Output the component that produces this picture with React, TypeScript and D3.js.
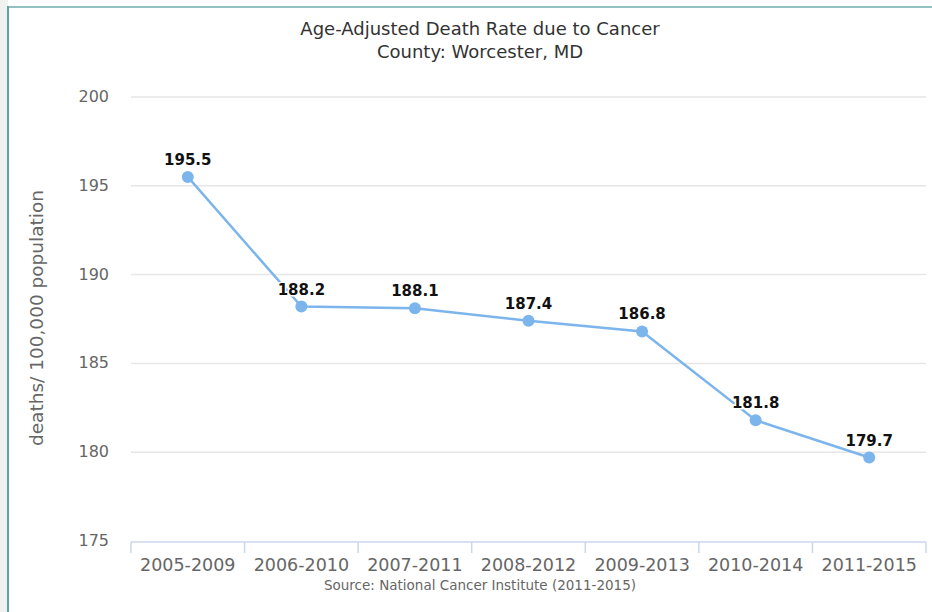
import React from "react";
import * as d3 from "d3";

const categories = ["2005-2009", "2006-2010", "2007-2011", "2008-2012", "2009-2013", "2010-2014", "2011-2015"];
const values = [195.5, 188.2, 188.1, 187.4, 186.8, 181.8, 179.7];
const yTicks = [175, 180, 185, 190, 195, 200];
const titleLines = ["Age-Adjusted Death Rate due to Cancer", "County: Worcester, MD"];
const yAxisTitle = "deaths/ 100,000 population";
const sourceText = "Source: National Cancer Institute (2011-2015)";

export default function App() {
  const W = 932, H = 612;
  const left = 131, right = 926, top = 97, bottom = 541;
  const x = d3.scaleBand<string>().domain(categories).range([left, right]);
  const y = d3.scaleLinear().domain([175, 200]).range([bottom, top]);
  const line = d3.line<number>()
    .x((_, i) => (x(categories[i]) as number) + x.bandwidth() / 2)
    .y((d) => y(d));
  const font = "'DejaVu Sans', sans-serif";
  const tickEdges = [...categories.map((c) => x(c) as number), right];
  return (
    <svg width={W} height={H} style={{ position: "absolute", left: 0, top: 0, background: "#fff" }} fontFamily={font}>
      <rect x={0} y={0} width={8} height={H} fill="#f1f1ef" />
      <rect x={7} y={6} width={W - 7} height={2} fill="#93c1c1" />
      <rect x={7} y={6} width={2} height={H - 6} fill="#5fa3a4" />
      {titleLines.map((t, i) => (
        <text key={i} x={480} y={35 + i * 23} textAnchor="middle" fontSize={18} fill="#333">{t}</text>
      ))}
      {yTicks.map((t) => (
        <g key={t}>
          {t !== 175 && <line x1={left} x2={right} y1={y(t)} y2={y(t)} stroke="#e6e6e6" strokeWidth={1.5} />}
          <text x={109} y={y(t) + 5} textAnchor="end" fontSize={16} fill="#666">{t}</text>
        </g>
      ))}
      <line x1={left} x2={right} y1={bottom + 1} y2={bottom + 1} stroke="#ccd6eb" strokeWidth={1.5} />
      {tickEdges.map((tx, i) => (
        <line key={i} x1={tx} x2={tx} y1={bottom + 1} y2={bottom + 12} stroke="#ccd6eb" strokeWidth={1.5} />
      ))}
      {categories.map((c) => (
        <text key={c} x={(x(c) as number) + x.bandwidth() / 2} y={571} textAnchor="middle" fontSize={17.5} fill="#666">{c}</text>
      ))}
      <text x={480} y={590} textAnchor="middle" fontSize={13.5} fill="#666">{sourceText}</text>
      <text transform={`translate(43,${(top + bottom) / 2 - 1}) rotate(-90)`} textAnchor="middle" fontSize={18.5} fill="#666">{yAxisTitle}</text>
      <path d={line(values) || ""} fill="none" stroke="#7cb5ec" strokeWidth={2.5} />
      {values.map((v, i) => {
        const cx = (x(categories[i]) as number) + x.bandwidth() / 2;
        return (
          <g key={i}>
            <circle cx={cx} cy={y(v)} r={6} fill="#7cb5ec" />
            <text x={cx} y={y(v) - 12} textAnchor="middle" fontSize={15} fontWeight="bold" fill="#111" stroke="#fff" strokeWidth={3} paintOrder="stroke">{v.toFixed(1)}</text>
          </g>
        );
      })}
    </svg>
  );
}
